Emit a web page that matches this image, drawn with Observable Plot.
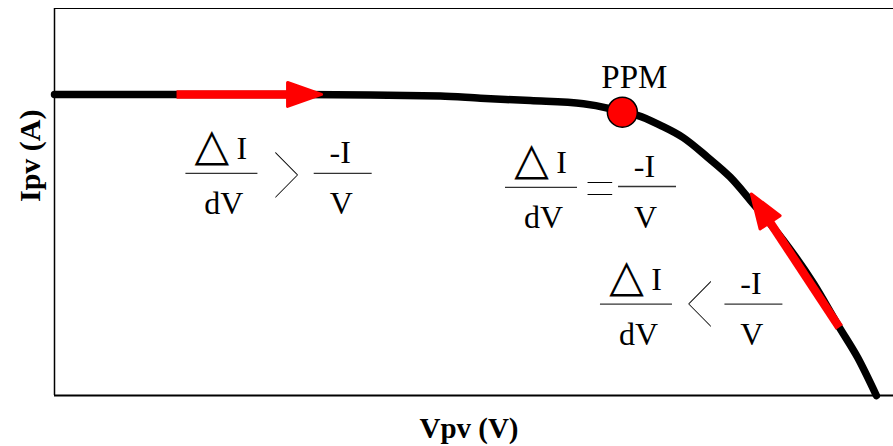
<!DOCTYPE html>
<html>
<head>
<meta charset="utf-8">
<script src="https://cdn.jsdelivr.net/npm/d3@7"></script>
<script src="https://cdn.jsdelivr.net/npm/@observablehq/plot@0.6"></script>
<style>
  body { margin: 0; background: #fff; }
  svg { display: block; }
</style>
</head>
<body>
<div id="chart"></div>
<script>
// I–V characteristic of a PV panel with the incremental-conductance MPPT conditions

// curve samples: panel voltage (V) and current (A)
const voltage = [0, 6.45, 10.12, 11.17, 12.48, 13.87, 14.53, 14.89, 15.28, 15.89, 16.49, 17.12, 17.72, 18.25, 19.12, 19.90, 20.58, 21.06, 21.55];
const current = [3.89, 3.89, 3.87, 3.84, 3.81, 3.77, 3.71, 3.66, 3.62, 3.49, 3.33, 3.08, 2.82, 2.52, 2.00, 1.45, 0.88, 0.49, 0];

// maximum power point
const mppVoltage = [14.89];
const mppCurrent = [3.66];
const mppLabel = ["PPM"];

// tracking direction arrows: tail and base of the head
const arrowTailV = [3.20, 20.58];
const arrowTailI = [3.89, 0.88];
const arrowHeadV = [6.19, 18.72];
const arrowHeadI = [3.89, 2.27];

// condition annotations, anchored at the fraction bars (V, A)
const dIdVAt = [[4.39, 2.87], [12.77, 2.69], [15.26, 1.18]];   // ΔI / dV
const IVAt = [[7.57, 2.87], [15.55, 2.70], [18.34, 1.18]];     // -I / V
const relationAt = [[6.06, 2.83], [14.30, 2.66], [16.94, 1.16]];
const relationSign = [">", "=", "<"];

// axis titles
const xTitle = "Vpv (V)";
const yTitle = "Ipv (A)";

// tables for the marks
const curve = voltage.map((v, k) => ({v, i: current[k]}));
const mpp = mppVoltage.map((v, k) => ({v, i: mppCurrent[k], label: mppLabel[k]}));
const arrows = arrowTailV.map((v, k) => ({v1: v, i1: arrowTailI[k], v2: arrowHeadV[k], i2: arrowHeadI[k]}));
const dIdV = dIdVAt.map(([v, i]) => ({v, i}));
const IV = IVAt.map(([v, i]) => ({v, i}));
const relations = relationAt.map(([v, i], k) => ({v, i, sign: relationSign[k]}));

const width = 893, height = 446;
const margin = {left: 54, right: 0, top: 8, bottom: 51};
const xDomain = [0, 22], yDomain = [0, 5];

// pixel mapping mirrors Plot's linear scales, used to orient the arrow heads
const px = d3.scaleLinear(xDomain, [margin.left, width - margin.right]);
const py = d3.scaleLinear(yDomain, [height - margin.bottom, margin.top]);
const heading = arrows.map(a => Math.atan2(px(a.v2) - px(a.v1), -(py(a.i2) - py(a.i1))) * 180 / Math.PI);

// arrow head pointing up, base at the origin
const headSymbol = {
  draw(ctx) {
    ctx.moveTo(0, -31);
    ctx.lineTo(12, 3);
    ctx.lineTo(-12, 3);
    ctx.closePath();
  }
};

const serif = "'Liberation Serif', 'Times New Roman', serif";
const fracSize = 32;

const chart = Plot.plot({
  width, height,
  marginLeft: margin.left, marginRight: margin.right, marginTop: margin.top, marginBottom: margin.bottom,
  x: {domain: xDomain, axis: null},
  y: {domain: yDomain, axis: null},
  style: {background: "#fff", fontFamily: serif, color: "#000"},
  marks: [
    // frame
    Plot.ruleY([yDomain[0]], {stroke: "#000", strokeWidth: 2}),
    Plot.ruleY([yDomain[1]], {stroke: "#000", strokeWidth: 1.2}),
    Plot.ruleX([xDomain[0]], {stroke: "#000", strokeWidth: 1.5}),

    // I–V curve
    Plot.line(curve, {x: "v", y: "i", curve: "monotone-x", stroke: "#000", strokeWidth: 7.5}),

    // direction arrows
    Plot.link(arrows, {x1: "v1", y1: "i1", x2: "v2", y2: "i2", stroke: "#ff0000", strokeWidth: 8.5}),
    Plot.dot(arrows, {x: "v2", y: "i2", r: 1, symbol: headSymbol, rotate: (d, k) => heading[k],
      fill: "#ff0000", stroke: "#ff0000", strokeWidth: 3, strokeLinejoin: "round"}),

    // maximum power point
    Plot.dot(mpp, {x: "v", y: "i", r: 15, fill: "#ff0000", stroke: "#000", strokeWidth: 1.5}),
    Plot.text(mpp, {x: "v", y: "i", text: "label", dx: 12, dy: -24, lineAnchor: "bottom", fontSize: 33, fill: "#000"}),

    // ΔI / dV
    Plot.ruleY(dIdV, {y: "i", x1: d => d.v - 0.944, x2: d => d.v + 0.944, stroke: "#333", strokeWidth: 1.3}),
    Plot.text(dIdV, {x: "v", y: "i", text: () => "△", dx: -10, dy: -13, lineAnchor: "bottom",
      fontFamily: "'DejaVu Sans', sans-serif", fontSize: 45, fill: "#000"}),
    Plot.text(dIdV, {x: "v", y: "i", text: () => "I", dx: 20, dy: -14, lineAnchor: "bottom", fontSize: fracSize, fill: "#000"}),
    Plot.text(dIdV, {x: "v", y: "i", text: () => "dV", dx: 2, dy: 41, lineAnchor: "bottom", fontSize: fracSize, fill: "#000"}),

    // -I / V
    Plot.ruleY(IV, {y: "i", x1: d => d.v - 0.76, x2: d => d.v + 0.76, stroke: "#333", strokeWidth: 1.3}),
    Plot.text(IV, {x: "v", y: "i", text: () => "-I", dx: -3, dy: -10, lineAnchor: "bottom", fontSize: fracSize, fill: "#000"}),
    Plot.text(IV, {x: "v", y: "i", text: () => "V", dx: -2, dy: 41, lineAnchor: "bottom", fontSize: fracSize, fill: "#000"}),

    // comparison signs
    Plot.text(relations, {x: "v", y: "i", text: "sign", lineAnchor: "middle",
      fontFamily: "Lato, sans-serif", fontWeight: 200, fontSize: 44, fill: "#000"}),

    // axis titles
    Plot.text([xTitle], {frameAnchor: "bottom", dx: -5, dy: 42, lineAnchor: "bottom", fontWeight: "bold", fontSize: 29, fill: "#000"}),
    Plot.text([yTitle], {frameAnchor: "left", dx: -15, rotate: -90, lineAnchor: "bottom", fontWeight: "bold", fontSize: 30, fill: "#000"})
  ]
});

// stretch the thin comparison signs
const stretch = {">": [1.4, 2.8], "<": [1.4, 2.8], "=": [1.4, 1.85]};
d3.select(chart).selectAll("text").each(function () {
  const s = stretch[this.textContent];
  if (!s) return;
  const t = this.getAttribute("transform") || "";
  this.setAttribute("transform", `${t} scale(${s[0]},${s[1]})`);
});

document.getElementById("chart").appendChild(chart);
</script>
</body>
</html>
